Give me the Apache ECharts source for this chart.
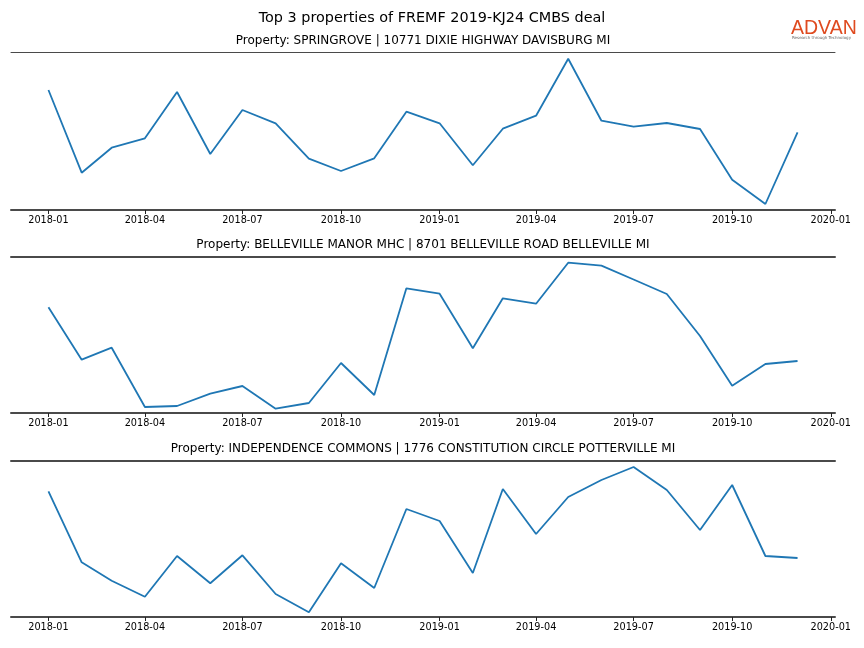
<!DOCTYPE html>
<html>
<head>
<meta charset="utf-8">
<script src="https://cdn.jsdelivr.net/npm/echarts@6/dist/echarts.min.js"></script>
<style>html,body{margin:0;padding:0;background:#fff;}#c{width:864px;height:648px;}</style>
</head>
<body>
<div id="c"></div>
<script>
const months = ['2018-01','2018-02','2018-03','2018-04','2018-05','2018-06','2018-07','2018-08','2018-09','2018-10','2018-11','2018-12',
                '2019-01','2019-02','2019-03','2019-04','2019-05','2019-06','2019-07','2019-08','2019-09','2019-10','2019-11','2019-12'];
const springrove   = [120, 37.3, 62.3, 71.7, 118, 56, 100, 86.7, 51.3, 39, 51.7, 98.3, 86.7, 44.7, 81.3, 94.3, 151.3, 89.3, 83.3, 87, 81, 30.3, 6, 77.7];
const belleville   = [105.7, 53.3, 65.3, 6, 7, 19.3, 27, 4.3, 10, 50, 18, 124.7, 119.3, 64.7, 114.7, 109.3, 150.3, 147.3, 133.5, 119, 77, 27.3, 49, 52];
const independence = [125.7, 54.7, 36.3, 20.3, 61, 33.7, 61.7, 23, 4.7, 53.7, 29, 108, 96, 44, 128, 83, 120, 137, 150, 127, 87, 132, 61, 59];
const tickLabels = ['2018-01','2018-04','2018-07','2018-10','2019-01','2019-04','2019-07','2019-10','2020-01'];
const mainTitle = 'Top 3 properties of FREMF 2019-KJ24 CMBS deal';
const panelTitles = [
  'Property: SPRINGROVE | 10771 DIXIE HIGHWAY DAVISBURG MI',
  'Property: BELLEVILLE MANOR MHC | 8701 BELLEVILLE ROAD BELLEVILLE MI',
  'Property: INDEPENDENCE COMMONS | 1776 CONSTITUTION CIRCLE POTTERVILLE MI'
];
const seriesData = [springrove, belleville, independence];
const yRanges = [[0, 158], [0, 156], [0, 156]];

function ts(s){ const [y,m] = s.split('-').map(Number); return Date.UTC(y, m-1, 1); }
function fmt(v){ const d = new Date(v); return d.getUTCFullYear() + '-' + String(d.getUTCMonth()+1).padStart(2,'0'); }

const t0 = ts(months[0]), t1 = ts(months[months.length-1]);
const pad = 0.05 * (t1 - t0);
const xMin = t0 - pad, xMax = t1 + pad;
const tickVals = tickLabels.map(ts);

const gridTops = [52, 257, 461];
const gridHeights = [158, 156, 156];
const titleTops = [35, 239, 443];
const topLineWidths = [1, 2, 2];
const spineColor = '#4a4a4a';
const font = 'DejaVu Sans';

const grids = [], xAxes = [], yAxes = [], series = [], titles = [];
titles.push({text: mainTitle, left: 432, textAlign: 'center', top: 11, padding: 0,
  textStyle: {fontFamily: font, fontSize: 14.4, fontWeight: 'normal', color: '#000'}});
for (let i = 0; i < 3; i++) {
  grids.push({left: 11, right: 29, top: gridTops[i], height: gridHeights[i], containLabel: false});
  xAxes.push({type: 'value', gridIndex: i, min: xMin, max: xMax, position: 'bottom',
    splitLine: {show: false},
    axisLine: {show: true, onZero: false, lineStyle: {color: spineColor, width: 2}},
    axisTick: {show: true, length: 4, customValues: tickVals, lineStyle: {color: '#222', width: 1}},
    axisLabel: {show: true, customValues: tickVals, formatter: fmt, fontFamily: font, fontSize: 9.7, color: '#000', margin: 5, showMinLabel: true, showMaxLabel: true}
  });
  yAxes.push({type: 'value', gridIndex: i, show: false,
    min: yRanges[i][0], max: yRanges[i][1],
    splitLine: {show: false}
  });
  series.push({type: 'line', xAxisIndex: i, yAxisIndex: i, showSymbol: false, symbol: 'none', animation: false,
    data: months.map((m, k) => [ts(m), seriesData[i][k]]),
    lineStyle: {color: '#1f77b4', width: 1.8}
  });
  titles.push({text: panelTitles[i], left: 423, textAlign: 'center', top: titleTops[i], padding: 0,
    textStyle: {fontFamily: font, fontSize: 12.0, fontWeight: 'normal', color: '#000'}});
}
for (let i = 0; i < 3; i++) {
  xAxes.push({type: 'value', gridIndex: i, min: xMin, max: xMax, position: 'top',
    splitLine: {show: false},
    axisLine: {show: true, onZero: false, lineStyle: {color: spineColor, width: topLineWidths[i]}},
    axisTick: {show: false}, axisLabel: {show: false}
  });
}

const chart = echarts.init(document.getElementById('c'), null, {renderer: 'canvas'});
chart.setOption({
  animation: false,
  backgroundColor: '#fff',
  title: titles,
  grid: grids,
  xAxis: xAxes,
  yAxis: yAxes,
  series: series,
  graphic: [
    {type: 'text', left: 791, top: 19, style: {text: 'ADVAN', fontFamily: 'Liberation Sans', fontSize: 19.5, fontWeight: 'normal', fill: '#df4a1f'}},
    {type: 'text', left: 792, top: 36, style: {text: 'Research through Technology', fontFamily: font, fontSize: 4, fill: '#666'}}
  ]
});
</script>
</body>
</html>
